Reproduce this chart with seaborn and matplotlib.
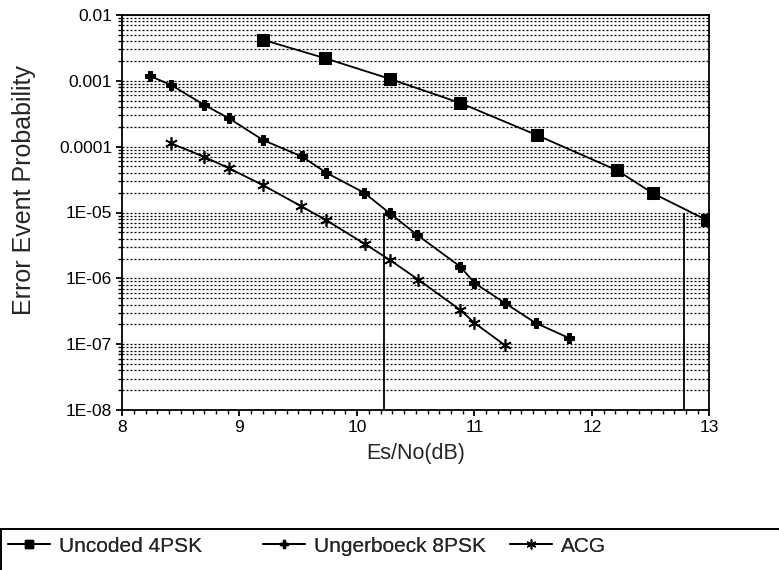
import numpy as np
import pandas as pd
import matplotlib
matplotlib.use("Agg")
import matplotlib.pyplot as plt
from matplotlib.ticker import FixedLocator, FixedFormatter, MultipleLocator, LogLocator, NullFormatter
from matplotlib.lines import Line2D
from matplotlib.patches import Rectangle
import seaborn as sns

# ---- data ----
uncoded_x = [9.20, 9.73, 10.28, 10.88, 11.53, 12.21, 12.52, 12.98]
uncoded_y = [4.2e-3, 2.2e-3, 1.07e-3, 4.6e-4, 1.5e-4, 4.4e-5, 1.95e-5, 7.6e-6]

unger_x = [8.24, 8.42, 8.70, 8.91, 9.20, 9.53, 9.74, 10.06, 10.28, 10.51, 10.88, 11.00, 11.26, 11.52, 11.80]
unger_y = [1.18e-3, 8.6e-4, 4.3e-4, 2.7e-4, 1.26e-4, 7.1e-5, 4.0e-5, 2.0e-5, 9.7e-6, 4.6e-6,
           1.5e-6, 8.5e-7, 4.2e-7, 2.1e-7, 1.25e-7]

acg_x = [8.42, 8.70, 8.91, 9.20, 9.52, 9.74, 10.07, 10.28, 10.52, 10.88, 11.00, 11.26]
acg_y = [1.12e-4, 7.0e-5, 4.7e-5, 2.6e-5, 1.26e-5, 7.6e-6, 3.3e-6, 1.9e-6, 9.6e-7, 3.3e-7, 2.1e-7, 9.6e-8]

series_names = ["Uncoded 4PSK", "Ungerboeck 8PSK", "ACG"]

vline_x = [10.23, 12.78]
vline_top = [1e-5, 1e-5]

x_ticks = [8, 9, 10, 11, 12, 13]
x_tick_labels = ["8", "9", "10", "11", "12", "13"]
y_ticks = [1e-8, 1e-7, 1e-6, 1e-5, 1e-4, 1e-3, 1e-2]
y_tick_labels = ["1E-08", "1E-07", "1E-06", "1E-05", "0.0001", "0.001", "0.01"]

x_label = "Es/No(dB)"
y_label = "Error Event Probability"

# ---- style ----
sns.set_style("ticks")
plt.rcParams["font.family"] = ["Liberation Sans", "DejaVu Sans"]

fig = plt.figure(figsize=(7.79, 5.70), dpi=100)
ax = fig.add_axes([122 / 779, 1 - 410 / 570, (709.5 - 122) / 779, (410 - 15) / 570])

df_unc = pd.DataFrame({"x": uncoded_x, "y": uncoded_y})
df_ung = pd.DataFrame({"x": unger_x, "y": unger_y})
df_acg = pd.DataFrame({"x": acg_x, "y": acg_y})

ax.set_yscale("log")
sns.lineplot(data=df_unc, x="x", y="y", ax=ax, color="black", lw=1.3, marker="s",
             markersize=8, markeredgecolor="black", markerfacecolor="black", zorder=3)
sns.lineplot(data=df_ung, x="x", y="y", ax=ax, color="black", lw=1.3, marker="P",
             markersize=7, markeredgecolor="black", markerfacecolor="black", zorder=3)
sns.lineplot(data=df_acg, x="x", y="y", ax=ax, color="black", lw=1.3, marker=(6, 2, 0),
             markersize=9, markeredgecolor="black", markeredgewidth=1.2, zorder=3)

ax.vlines(vline_x, [1e-8] * len(vline_x), vline_top, colors="black", lw=1.3, zorder=2)

ax.set_xlim(8, 13)
ax.set_ylim(1e-8, 1e-2)

ax.xaxis.set_major_locator(FixedLocator(x_ticks))
ax.xaxis.set_major_formatter(FixedFormatter(x_tick_labels))
ax.xaxis.set_minor_locator(MultipleLocator(0.1))
ax.yaxis.set_major_locator(FixedLocator(y_ticks))
ax.yaxis.set_major_formatter(FixedFormatter(y_tick_labels))
ax.yaxis.set_minor_locator(LogLocator(base=10, subs=np.arange(2, 10)))
ax.yaxis.set_minor_formatter(NullFormatter())

ax.tick_params(axis="both", which="major", direction="out", length=4, width=1.3,
               labelsize=12.5, colors="black", pad=3)
ax.tick_params(axis="both", which="minor", direction="out", length=3, width=1.0, colors="black")

ax.yaxis.grid(True, which="both", linestyle=(0, (1.6, 1.6)), color="black", lw=0.9)
ax.xaxis.grid(False)

for s in ax.spines.values():
    s.set_visible(True)
    s.set_color("black")
    s.set_linewidth(1.3)

ax.set_xlabel(x_label, fontsize=15.5, labelpad=6)
ax.set_ylabel(y_label, fontsize=18)
ax.yaxis.label.set_va("center")
ax.yaxis.set_label_coords((24 - 122) / 587.5, (410 - 190) / 395)

# ---- legend box at bottom ----
fig.add_artist(Rectangle((0.001, -0.01), 1.2, 1 - 529 / 570 + 0.01, transform=fig.transFigure,
                         fill=False, edgecolor="black", lw=1.4, clip_on=False))

handles = [
    Line2D([], [], color="black", lw=1.3, marker="s", markersize=6, markerfacecolor="black"),
    Line2D([], [], color="black", lw=1.3, marker="P", markersize=6, markerfacecolor="black"),
    Line2D([], [], color="black", lw=1.3, marker=(6, 2, 0), markersize=7, markeredgewidth=1.0),
]
leg_x = [8 / 779, 263 / 779, 510 / 779]
for h, name, lx in zip(handles, series_names, leg_x):
    lg = fig.legend([h], [name], loc="center left", bbox_to_anchor=(lx, 1 - 546 / 570),
                    frameon=False, fontsize=15, handlelength=2.0, handletextpad=0.45,
                    borderpad=0, borderaxespad=0)
    fig.add_artist(lg)

fig.savefig("out.png", dpi=100)
